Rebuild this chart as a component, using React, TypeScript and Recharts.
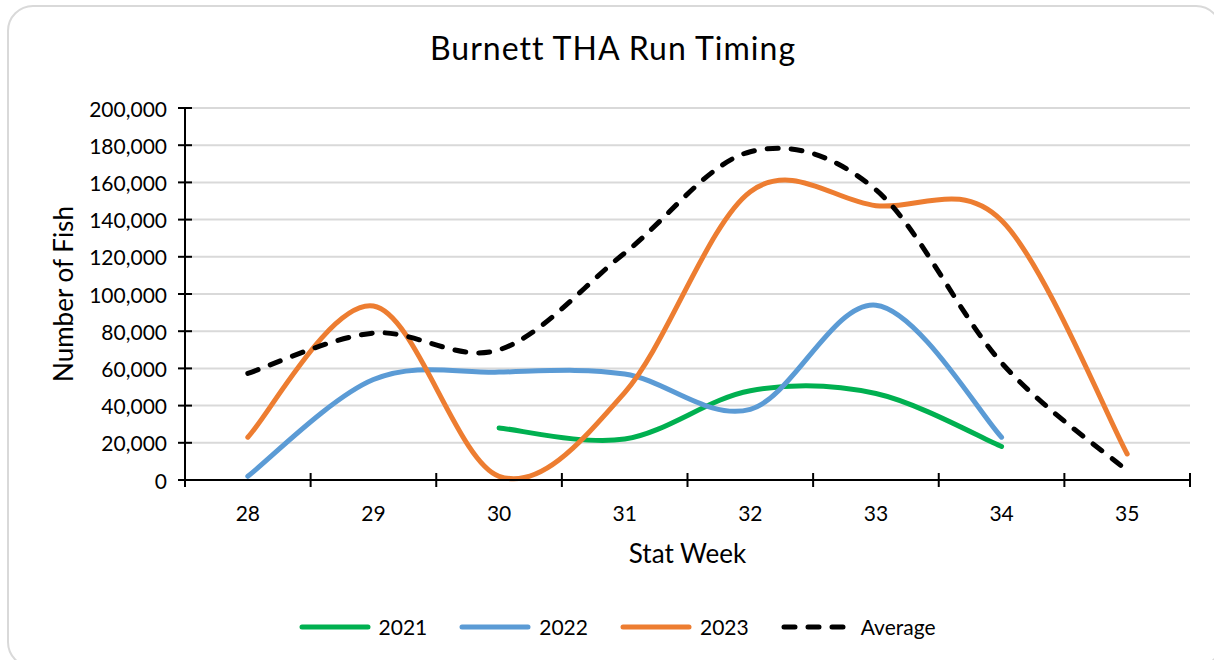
import React from 'react';
import { LineChart, Line, XAxis, YAxis, CartesianGrid, Legend } from 'recharts';

const weeks = ['28', '29', '30', '31', '32', '33', '34', '35'];
const s2021 = [null, null, 28000, 22000, 48000, 46500, 18000, null];
const s2022 = [2000, 54000, 58000, 57000, 38000, 94000, 23000, null];
const s2023 = [23000, 93500, 2000, 47000, 155000, 147500, 139500, 14000];
const sAvg = [57300, 79000, 70000, 122000, 176500, 156000, 63000, 5000];
const yTicks = [0, 20000, 40000, 60000, 80000, 100000, 120000, 140000, 160000, 180000, 200000];

const seriesInfo = [
  { key: 'y2021', name: '2021', color: '#00B050', dash: undefined as string | undefined },
  { key: 'y2022', name: '2022', color: '#5B9BD5', dash: undefined as string | undefined },
  { key: 'y2023', name: '2023', color: '#ED7D31', dash: undefined as string | undefined },
  { key: 'avg', name: 'Average', color: '#000000', dash: '11 13' },
];

const data = weeks.map((w, i) => ({
  week: w,
  y2021: s2021[i],
  y2022: s2022[i],
  y2023: s2023[i],
  avg: sAvg[i],
}));

// Excel-like smoothed curve (Catmull-Rom as cubic Bezier)
const excelCurve = (context: any) => {
  let xs: number[] = [];
  let ys: number[] = [];
  return {
    areaStart() {},
    areaEnd() {},
    lineStart() {
      xs = [];
      ys = [];
    },
    point(x: number, y: number) {
      xs.push(+x);
      ys.push(+y);
    },
    lineEnd() {
      const n = xs.length;
      if (!n) return;
      context.moveTo(xs[0], ys[0]);
      if (n === 1) {
        context.lineTo(xs[0], ys[0]);
        return;
      }
      for (let i = 0; i < n - 1; i++) {
        const i0 = Math.max(i - 1, 0);
        const i3 = Math.min(i + 2, n - 1);
        const c1x = xs[i] + (xs[i + 1] - xs[i0]) / 6;
        const c1y = ys[i] + (ys[i + 1] - ys[i0]) / 6;
        const c2x = xs[i + 1] - (xs[i3] - xs[i]) / 6;
        const c2y = ys[i + 1] - (ys[i3] - ys[i]) / 6;
        context.bezierCurveTo(c1x, c1y, c2x, c2y, xs[i + 1], ys[i + 1]);
      }
    },
  };
};

const FONT = 'Lato, "Open Sans", sans-serif';
const Y_TICK_GAP = 18;

const LegendContent = () => (
  <div
    style={{
      display: 'flex',
      justifyContent: 'center',
      alignItems: 'center',
      height: 24,
      gap: 32,
      paddingLeft: 20,
      fontFamily: FONT,
      fontSize: 21,
      color: '#000',
    }}
  >
    {seriesInfo.map((s) => (
      <div key={s.key} style={{ display: 'flex', alignItems: 'center', gap: 8 }}>
        <svg width={72} height={24}>
          <line
            x1={3}
            y1={12}
            x2={s.dash ? 66 : 69}
            y2={12}
            stroke={s.color}
            strokeWidth={5}
            strokeLinecap="round"
            strokeDasharray={s.dash}
          />
        </svg>
        <span style={{ lineHeight: '24px' }}>{s.name}</span>
      </div>
    ))}
  </div>
);

// Y tick: label plus a tick mark crossing the axis
const YTick = (props: any) => {
  const { x, y, payload } = props;
  const ax = x + Y_TICK_GAP;
  return (
    <g>
      <line x1={ax - 7} y1={y} x2={ax + 7} y2={y} stroke="#000" strokeWidth={2} />
      <text
        x={x}
        y={y}
        textAnchor="end"
        dominantBaseline="central"
        fontSize={21}
        fill="#000"
        fontFamily={FONT}
      >
        {Number(payload.value).toLocaleString('en-US')}
      </text>
    </g>
  );
};

// X tick: category label at band centre, tick marks at band boundaries
const XTick = (props: any) => {
  const { x, y, payload, index, width } = props;
  const count = weeks.length;
  const half = (Number(width) || 1005) / count / 2;
  const last = index === count - 1;
  return (
    <g>
      <line x1={x - half} y1={y - 7} x2={x - half} y2={y + 7} stroke="#000" strokeWidth={2} />
      {last && (
        <line x1={x + half} y1={y - 7} x2={x + half} y2={y + 7} stroke="#000" strokeWidth={2} />
      )}
      <text
        x={x}
        y={y + 32}
        textAnchor="middle"
        dominantBaseline="central"
        fontSize={21}
        fill="#000"
        fontFamily={FONT}
      >
        {payload.value}
      </text>
    </g>
  );
};

const YTitle = (props: any) => {
  const vb = props.viewBox || { x: 0, y: 108, width: 185, height: 372 };
  const cx = 63;
  const cy = vb.y + vb.height / 2;
  return (
    <text
      x={cx}
      y={cy}
      transform={`rotate(-90, ${cx}, ${cy})`}
      textAnchor="middle"
      dominantBaseline="central"
      fontSize={26}
      fill="#000"
      fontFamily={FONT}
    >
      Number of Fish
    </text>
  );
};

const XTitle = (props: any) => {
  const vb = props.viewBox || { x: 185, y: 480, width: 1005, height: 1 };
  return (
    <text
      x={vb.x + vb.width / 2}
      y={vb.y + 73}
      textAnchor="middle"
      dominantBaseline="central"
      fontSize={26}
      fill="#000"
      fontFamily={FONT}
    >
      Stat Week
    </text>
  );
};

export default function App() {
  return (
    <div
      style={{
        position: 'absolute',
        left: 0,
        top: 0,
        width: 1214,
        height: 660,
        overflow: 'hidden',
        background: '#fff',
        fontFamily: FONT,
      }}
    >
      <div
        style={{
          position: 'absolute',
          left: 7,
          top: 5,
          width: 1215,
          height: 663,
          border: '2px solid #D9D9D9',
          borderRadius: 26,
          boxSizing: 'border-box',
        }}
      />
      <div
        style={{
          position: 'absolute',
          left: 6,
          top: 32,
          width: 1214,
          textAlign: 'center',
          fontSize: 32,
          lineHeight: '32px',
          letterSpacing: 1,
          color: '#000',
          fontFamily: FONT,
        }}
      >
        Burnett THA Run Timing
      </div>
      <LineChart
        width={1214}
        height={660}
        data={data}
        margin={{ top: 108, right: 24, bottom: 155, left: 0 }}
        style={{ position: 'absolute', left: 0, top: 0 }}
      >
        <CartesianGrid vertical={false} stroke="#D9D9D9" strokeWidth={2} />
        <XAxis
          dataKey="week"
          scale="band"
          height={1}
          axisLine={{ stroke: '#000', strokeWidth: 2 }}
          tickLine={false}
          tickSize={0}
          tickMargin={0}
          interval={0}
          tick={<XTick />}
          label={<XTitle />}
        />
        <YAxis
          domain={[0, 200000]}
          ticks={yTicks}
          width={185}
          tickSize={0}
          tickMargin={Y_TICK_GAP}
          tickLine={false}
          axisLine={{ stroke: '#000', strokeWidth: 2 }}
          tick={<YTick />}
          label={<YTitle />}
        />
        <Legend
          verticalAlign="bottom"
          content={<LegendContent />}
          wrapperStyle={{ top: 615, bottom: 'auto', left: 0, width: 1214, height: 24 }}
        />
        {seriesInfo.map((s) => (
          <Line
            key={s.key}
            dataKey={s.key}
            name={s.name}
            type={excelCurve as any}
            stroke={s.color}
            strokeWidth={5}
            strokeLinecap="round"
            strokeDasharray={s.dash}
            dot={false}
            activeDot={false}
            connectNulls={false}
            isAnimationActive={false}
          />
        ))}
      </LineChart>
    </div>
  );
}
